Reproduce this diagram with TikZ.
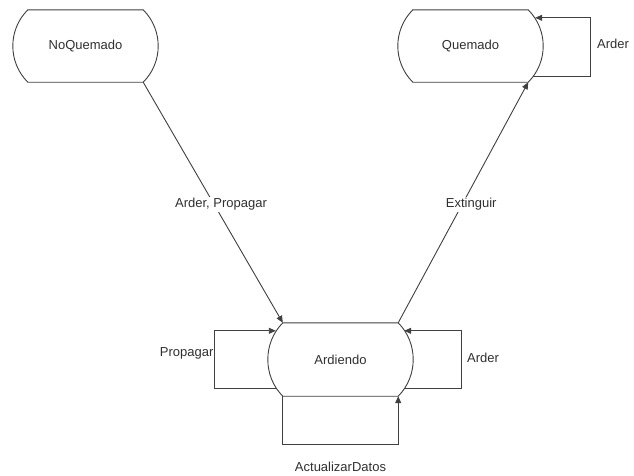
\documentclass[tikz,border=0pt]{standalone}
\usepackage{fontspec}
\setmainfont{Liberation Sans}
\usetikzlibrary{arrows.meta,calc}
\definecolor{lincol}{HTML}{404040}
\definecolor{txtcol}{HTML}{303030}
\tikzset{
  statebox/.style={minimum width=115pt, minimum height=72pt, inner sep=0pt, text=txtcol, font=\fontsize{13}{15}\selectfont},
  conn/.style={draw=lincol, line width=0.9pt, -{Triangle[length=7pt,width=6pt]}},
  lbl/.style={text=txtcol, font=\fontsize{13}{15}\selectfont, inner sep=1.5pt},
  shapeline/.style={draw=lincol, line width=0.9pt}
}
\begin{document}
\begin{tikzpicture}[x=1pt,y=1pt]
\useasboundingbox[fill=white] (0,0) rectangle (634,-475);
\node[statebox] (nq) at (85.5,-46) {NoQuemado};
\node[statebox] (q) at (470.5,-46) {Quemado};
\node[statebox, minimum height=73pt] (ard) at (340.5,-359.5) {Ardiendo};
\foreach \n in {nq,q,ard}
  \draw[shapeline] (\n.north west) -- (\n.north east)
    .. controls ([shift={(20pt,-20pt)}]\n.north east) and ([shift={(20pt,20pt)}]\n.south east) .. (\n.south east)
    -- (\n.south west)
    .. controls ([shift={(-20pt,20pt)}]\n.south west) and ([shift={(-20pt,-20pt)}]\n.north west) .. cycle;
% diagonal connectors
\draw[conn] (nq.south east) -- (ard.north west)
  node[lbl, pos=0.5, fill=white, xshift=8pt, yshift=-2pt] (l1) {Arder, Propagar};
\draw[conn] (ard.north east) -- (q.south east)
  node[lbl, pos=0.5, fill=white, xshift=8pt, yshift=-2pt] (l2) {Extinguir};
% Quemado self loop
\draw[conn] ([shift={(5pt,6pt)}]q.south east) -- ++(57pt,0) |- ([shift={(7pt,-8pt)}]q.north east)
  node[lbl, pos=0.25, anchor=west, xshift=5pt, yshift=3pt] (l3) {Arder};
% Ardiendo loops
\draw[conn] ([shift={(-7pt,7.5pt)}]ard.south west) -- ++(-61pt,0) |- ([shift={(-7pt,-8pt)}]ard.north west)
  node[lbl, pos=0.25, anchor=east, inner sep=1pt, yshift=6pt] (l4) {Propagar};
\draw[conn] ([shift={(6pt,7.5pt)}]ard.south east) -- ++(57pt,0) |- ([shift={(6pt,-8pt)}]ard.north east)
  node[lbl, pos=0.25, anchor=west, xshift=4pt, yshift=2pt] (l5) {Arder};
\draw[conn] (ard.south west) -- ++(0,-48pt) -| (ard.south east)
  node[lbl, pos=0.25, yshift=-23pt] (l6) {ActualizarDatos};
\end{tikzpicture}
\end{document}
